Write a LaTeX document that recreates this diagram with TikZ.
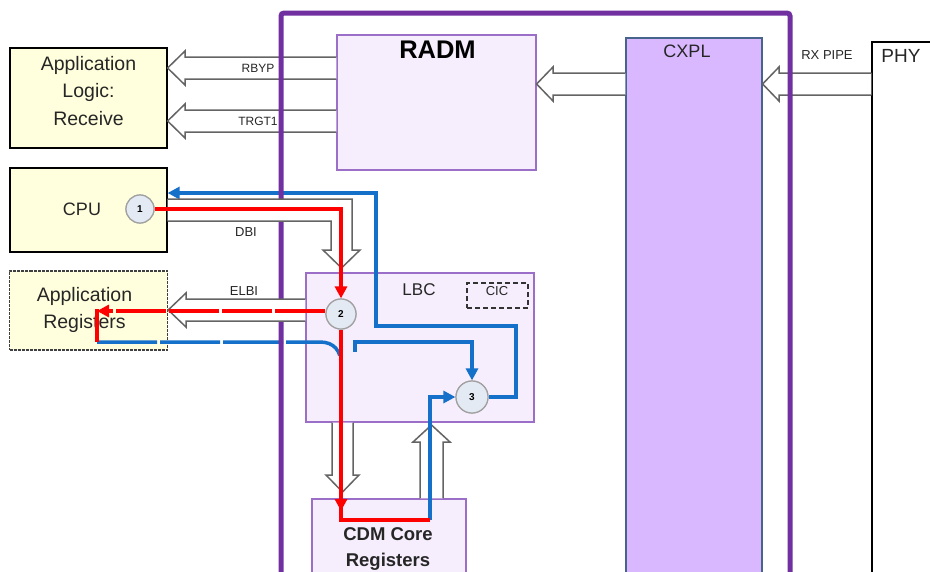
\documentclass[tikz,border=0pt]{standalone}
\usepackage{fontspec}
\setmainfont{Liberation Sans}
\usetikzlibrary{arrows.meta,calc}
\definecolor{framepurple}{RGB}{112,48,160}
\definecolor{lav}{RGB}{246,238,253}
\definecolor{lavborder}{RGB}{155,110,200}
\definecolor{cxplfill}{RGB}{217,184,255}
\definecolor{cxplborder}{RGB}{70,100,140}
\definecolor{yel}{RGB}{255,255,221}
\definecolor{circfill}{RGB}{228,234,244}
\definecolor{circborder}{RGB}{160,160,160}
\definecolor{hollowgray}{RGB}{100,100,100}
\definecolor{pathred}{RGB}{255,0,0}
\definecolor{pathblue}{RGB}{20,112,200}
\begin{document}
\begin{tikzpicture}[x=1pt,y=-1pt,
  yelbox/.style={draw=black, fill=yel, line width=1.2pt, inner sep=0pt},
  regborder/.style={draw=black!75, dash pattern=on 3pt off 1pt, line width=1.4pt},
  lavbox/.style={draw=lavborder, fill=lav, line width=1.2pt, inner sep=0pt},
  cxplbox/.style={draw=cxplborder, fill=cxplfill, line width=1.2pt, inner sep=0pt},
  phybox/.style={draw=black, fill=white, line width=1.2pt, inner sep=0pt},
  cicbox/.style={draw=black!80, dash pattern=on 5pt off 3pt, line width=2pt, inner sep=0pt},
  bigtext/.style={inner sep=0pt, align=center, text=black!85, font=\fontsize{19.5}{27.5}\selectfont},
  midtext/.style={inner sep=0pt, align=center, text=black!85, font=\fontsize{18}{22}\selectfont},
  smalllab/.style={inner sep=0pt, text=black!85, font=\fontsize{12}{14}\selectfont},
  circ/.style={circle, draw=circborder, fill=circfill, line width=1.2pt, inner sep=0pt, font=\bfseries\fontsize{10}{12}\selectfont},
  hollow/.style={draw=hollowgray, line width=1.5pt, fill=white, line join=miter},
  redpath/.style={draw=pathred, line width=4pt, line join=miter},
  bluepath/.style={draw=pathblue, line width=3.5pt, line join=miter},
  arrowed/.style={-{Triangle[length=12pt,width=12pt]}},
  outerframe/.style={draw=framepurple, line width=5pt, rounded corners=3pt}
]
\useasboundingbox (0,0) rectangle (930,571);
\fill[white] (0,0) rectangle (930,571);

% boxes
\node[yelbox, minimum width=157pt, minimum height=100pt] (applog) at (88.5,98) {};
\node[bigtext] (applogt) at (88.5,91) {Application\\Logic:\\Receive};
\node[yelbox, minimum width=157pt, minimum height=84pt] (cpu) at (88.5,210) {};
\node[midtext] (cput) at (82,209) {CPU};
\node[yelbox, regborder, minimum width=158pt, minimum height=79pt] (appreg) at (88.5,310.5) {};
\node[bigtext, font=\fontsize{19.5}{27}\selectfont] (appregt) at (84.5,309.5) {Application\\Registers};

\node[lavbox, minimum width=199pt, minimum height=135pt] (radm) at (436.5,102.5) {};
\node[inner sep=0pt, font=\bfseries\fontsize{25.5}{28}\selectfont] (radmt) at (437.5,50) {RADM};
\node[cxplbox, minimum width=136pt, minimum height=562pt] (cxpl) at (694,319) {};
\node[midtext] (cxplt) at (687,51) {CXPL};
\node[phybox, minimum width=68pt, minimum height=558pt] (phy) at (906,321) {};
\node[midtext, font=\fontsize{19}{22}\selectfont] (phyt) at (901,56) {PHY};
\node[smalllab, font=\fontsize{13}{15}\selectfont] (rxpipe) at (827,55) {RX PIPE};

\node[lavbox, minimum width=228pt, minimum height=149pt] (lbc) at (420,347.5) {};
\node[midtext, font=\fontsize{17}{20}\selectfont] (lbct) at (419,290) {LBC};
\node[cicbox, minimum width=61pt, minimum height=25pt] (cic) at (497.5,295.5) {};
\node[smalllab, font=\fontsize{13}{15}\selectfont] (cict) at (497,291) {CIC};
\node[lavbox, minimum width=154pt, minimum height=101pt] (cdm) at (389,549.5) {};
\node[inner sep=0pt, align=center, text=black!85, font=\bfseries\fontsize{18.5}{26}\selectfont] (cdmt) at (388,549) {CDM Core\\Registers};

% hollow arrows behind the frame
\draw[hollow] (radm.west |- 0,57) -- (185,57) -- (185,51) -- (applog.east |- 0,68) -- (185,85) -- (185,79) -- (radm.west |- 0,79);
\draw[hollow] (radm.west |- 0,110) -- (185,110) -- (185,104) -- (applog.east |- 0,121) -- (185,138) -- (185,132) -- (radm.west |- 0,132);
\draw[hollow] (cxpl.west |- 0,73) -- (553,73) -- (553,67) -- (radm.east |- 0,84) -- (553,101) -- (553,95) -- (cxpl.west |- 0,95);
\draw[hollow] (phy.west |- 0,73) -- (779,73) -- (779,67) -- (cxpl.east |- 0,84) -- (779,101) -- (779,95) -- (phy.west |- 0,95);
\draw[hollow] (332,0 |- lbc.south) -- (332,475) -- (326,475) -- (342.5,492) -- (359,475) -- (353,475) -- (353,0 |- lbc.south);
\draw[hollow] (420,0 |- cdm.north) -- (420,442) -- (413,442) -- (431.5,425) -- (450,442) -- (443,442) -- (443,0 |- cdm.north);

\node[smalllab] (rbyp) at (258,68) {RBYP};
\node[smalllab] (trgt) at (258,121) {TRGT1};

% circles
\node[circ, minimum size=28pt] (c1) at (140,209) {1};
\node[circ, minimum size=30pt] (c2) at (341,314) {2};
\node[circ, minimum size=32pt] (c3) at (472,397) {3};

% blue paths
\coordinate (b1) at (516,326);
\coordinate (b2) at (376,193);
\draw[bluepath, arrowed] (c3.east) -| (b1) -| (b2) -- (b2 -| cpu.east);
\coordinate (ar) at (97,311);
\coordinate (rb) at (97,342);
\draw[bluepath, dash pattern=on 60pt off 3pt] (rb) -- (320,342) .. controls (334,342) and (341,351) .. (341,364);
\coordinate (bj) at (355,352);
\draw[bluepath, arrowed] (bj) -- (355,342) -| (c3.north);
\coordinate (rc) at (341,511);
\coordinate (bc) at (430,520);
\draw[bluepath, arrowed] (bc) |- (c3.west);

% frame
\draw[outerframe] (281,13) rectangle (790,600);

% hollow arrows over the frame
\draw[hollow] (cpu.east |- 0,199) -- (352,199) -- (352,250) -- (360,250) -- (341.5,268) -- (323,250) -- (331,250) -- (331,221) -- (cpu.east |- 0,221);
\draw[hollow] (lbc.west |- 0,299) -- (186,299) -- (186,293) -- (appreg.east |- 0,310) -- (186,327) -- (186,321) -- (lbc.west |- 0,321);
\node[smalllab, font=\fontsize{13}{15}\selectfont] (dbi) at (246,232) {DBI};
\node[smalllab, font=\fontsize{13}{15}\selectfont] (elbi) at (244,291) {ELBI};

% red paths
\draw[redpath, arrowed] (c1.east) -| (c2.north);
\draw[redpath, arrowed, dash pattern=on 50pt off 3pt] (c2.west |- ar) -- (ar);
\draw[redpath] ($(ar)+(0,-2)$) -- (rb);
\draw[redpath, arrowed] (c2.south) -- (rc);
\draw[redpath] ($(rc)+(0,-4)$) |- (bc);

% redraw circles on top
\node[circ, minimum size=28pt] (c1b) at (c1) {1};
\node[circ, minimum size=30pt] (c2b) at (c2) {2};
\node[circ, minimum size=32pt] (c3b) at (c3) {3};
\end{tikzpicture}
\end{document}
